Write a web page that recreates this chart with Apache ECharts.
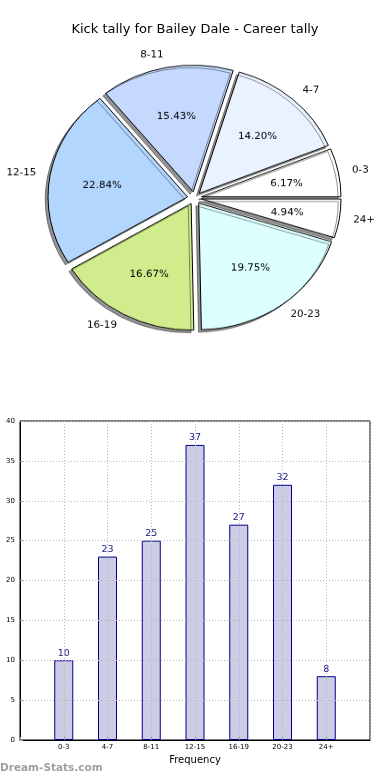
<!DOCTYPE html>
<html><head><meta charset="utf-8">
<script src="https://cdn.jsdelivr.net/npm/echarts@6/dist/echarts.min.js"></script>
<style>
html,body{margin:0;padding:0;background:#fff;}
#wrap{position:relative;width:390px;height:780px;overflow:hidden;background:#fff;}
#bar{position:absolute;left:0;top:0;width:390px;height:780px;}
#pie{position:absolute;left:0;top:0;width:390px;height:400px;transform:scaleY(0.907);transform-origin:0 198px;}
</style></head><body>
<div id="wrap"><div id="bar"></div><div id="pie"></div></div>
<script>
const categories = ['0-3', '4-7', '8-11', '12-15', '16-19', '20-23', '24+'];
const counts = [10, 23, 25, 37, 27, 32, 8];
const sliceColors = ['#ffffff', '#eaf2ff', '#c5d9ff', '#b3d6ff', '#d0ec8c', '#ddffff', '#ffffff'];
const yMin = 0, yMax = 40, yStep = 5;
const titleText = 'Kick tally for Bailey Dale - Career tally';
const xAxisName = 'Frequency';
const watermark = 'Dream-Stats.com';

const FONT = 'DejaVu Sans';

// ---------- bar chart + title + watermark ----------
const bar = echarts.init(document.getElementById('bar'), null, {renderer: 'canvas'});
const gridLine = {show: true, lineStyle: {color: '#b8b8b8', width: 1, type: [1, 2]}};
bar.setOption({
  backgroundColor: '#fff',
  animation: false,
  title: [
    {text: titleText, left: 'center', top: 23, padding: 0,
     textStyle: {fontSize: 13, fontWeight: 'normal', fontFamily: FONT, color: '#000'}},
    {text: watermark, left: 0, top: 763, padding: 0,
     textStyle: {fontSize: 10.5, fontWeight: 'bold', fontFamily: FONT, color: '#a0a0a0'}}
  ],
  grid: {left: 20, right: 20, top: 421, bottom: 40, show: true, borderColor: '#000', borderWidth: 1},
  xAxis: {
    type: 'value', min: -1, max: 7, interval: 1, z: 3,
    name: xAxisName, nameLocation: 'middle', nameGap: 15,
    nameTextStyle: {fontSize: 10, color: '#000', fontFamily: FONT},
    axisLine: {show: true, onZero: false, lineStyle: {color: '#000'}},
    axisTick: {show: true, inside: true, length: 3, lineStyle: {color: '#999'}},
    axisLabel: {fontSize: 7, color: '#000', margin: 4, fontFamily: FONT,
      formatter: v => (categories[v] !== undefined ? categories[v] : '')},
    splitLine: gridLine
  },
  yAxis: {
    type: 'value', min: yMin, max: yMax, interval: yStep, z: 3,
    axisLine: {show: true, onZero: false, lineStyle: {color: '#000'}},
    axisTick: {show: true, inside: true, length: 3, lineStyle: {color: '#999'}},
    axisLabel: {fontSize: 7, color: '#000', margin: 5, fontFamily: FONT},
    splitLine: gridLine
  },
  series: [{
    type: 'bar',
    data: counts.map((v, i) => [i, v]),
    barWidth: 19,
    itemStyle: {color: '#ccccE4', borderColor: '#00008b', borderWidth: 1},
    label: {show: true, position: 'top', distance: 2, fontSize: 9.5, color: '#1a1a8c', fontFamily: FONT,
      formatter: p => p.value[1]}
  }]
});

// ---------- pie chart (elliptical via CSS vertical scale) ----------
const pie = echarts.init(document.getElementById('pie'), null, {renderer: 'canvas'});
const CX = 194.5, CY = 198, R = 139.6, OFF = 7;
pie.setOption({
  animation: false,
  series: [
    {
      type: 'pie', center: [CX, CY], radius: R, startAngle: 0, clockwise: false,
      selectedMode: 'multiple', selectedOffset: OFF, avoidLabelOverlap: false,
      emphasis: {disabled: true},
      data: categories.map((c, i) => ({name: c, value: counts[i], selected: true,
        itemStyle: {color: sliceColors[i]}})),
      itemStyle: {borderColor: '#000', borderWidth: 1, shadowColor: 'rgba(0,0,0,0.42)',
        shadowBlur: 0, shadowOffsetX: -2.8, shadowOffsetY: 2.8},
      select: {itemStyle: {borderColor: '#000', borderWidth: 1}},
      label: {show: true, position: 'outside', color: '#000', fontSize: 10.3, fontFamily: FONT,
        distanceToLabelLine: 0, formatter: '{b}'},
      labelLine: {show: false, length: R * 0.1, length2: 0}
    },
    {
      type: 'pie', center: [CX, CY + 2.2], radius: R * 1.2, startAngle: 0, clockwise: false,
      silent: true, z: 3,
      selectedMode: 'multiple', selectedOffset: OFF, avoidLabelOverlap: false,
      emphasis: {disabled: true},
      data: categories.map((c, i) => ({name: c, value: counts[i], selected: true})),
      itemStyle: {color: 'rgba(0,0,0,0)', borderWidth: 0},
      select: {itemStyle: {color: 'rgba(0,0,0,0)', borderWidth: 0}},
      label: {show: true, position: 'inside', color: '#000', fontSize: 10.3, fontFamily: FONT,
        formatter: p => p.percent.toFixed(2) + '%'},
      labelLine: {show: false}
    }
  ]
});
</script>
</body></html>
